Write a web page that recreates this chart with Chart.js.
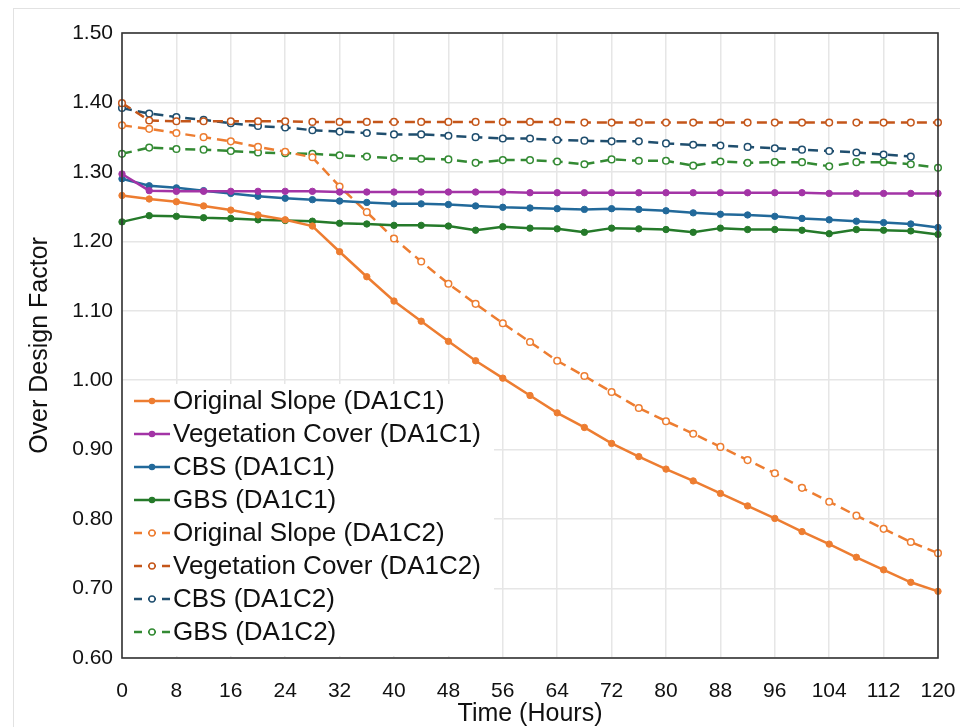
<!DOCTYPE html>
<html>
<head>
<meta charset="utf-8">
<script src="https://cdn.jsdelivr.net/npm/chart.js@4.4.0/dist/chart.umd.min.js"></script>
<style>
  html, body { margin: 0; padding: 0; background: #fff; }
  #wrap { position: relative; width: 960px; height: 727px; overflow: hidden; }
  #frame { position: absolute; left: 13px; top: 8px; width: 960px; height: 740px;
           border-left: 1px solid #e2e2e2; border-top: 1px solid #e2e2e2; }
  canvas { position: absolute; left: 0; top: 0; }
</style>
</head>
<body>
<div id="wrap">
  <div id="frame"></div>
  <canvas id="chart" width="960" height="727"></canvas>
</div>
<script>
// time axis (hours), one reading every 4 h
const hours = [0, 4, 8, 12, 16, 20, 24, 28, 32, 36, 40, 44, 48, 52, 56, 60,
               64, 68, 72, 76, 80, 84, 88, 92, 96, 100, 104, 108, 112, 116, 120]

const origC1 = [1.266, 1.261, 1.257, 1.251, 1.245, 1.238, 1.231, 1.222, 1.185, 1.149,
                1.114, 1.085, 1.056, 1.028, 1.003, 0.978, 0.953, 0.932, 0.909, 0.890,
                0.872, 0.855, 0.837, 0.819, 0.801, 0.782, 0.764, 0.745, 0.727, 0.709, 0.696]
const vegC1 = [1.297, 1.273, 1.272, 1.272, 1.272, 1.272, 1.272, 1.272, 1.271, 1.271,
               1.271, 1.271, 1.271, 1.271, 1.271, 1.270, 1.270, 1.270, 1.270, 1.270,
               1.270, 1.270, 1.270, 1.270, 1.270, 1.270, 1.269, 1.269, 1.269, 1.269, 1.269]
const cbsC1 = [1.290, 1.280, 1.277, 1.273, 1.269, 1.265, 1.262, 1.260, 1.258, 1.256,
               1.254, 1.254, 1.253, 1.251, 1.249, 1.248, 1.247, 1.246, 1.247, 1.246,
               1.244, 1.241, 1.239, 1.238, 1.236, 1.233, 1.231, 1.229, 1.227, 1.225, 1.220]
const gbsC1 = [1.228, 1.237, 1.236, 1.234, 1.233, 1.231, 1.230, 1.229, 1.226, 1.225,
               1.223, 1.223, 1.222, 1.216, 1.221, 1.219, 1.218, 1.213, 1.219, 1.218,
               1.217, 1.213, 1.219, 1.217, 1.217, 1.216, 1.211, 1.217, 1.216, 1.215, 1.210]
const origC2 = [1.367, 1.362, 1.356, 1.350, 1.344, 1.336, 1.329, 1.321, 1.279, 1.242,
                1.204, 1.171, 1.139, 1.110, 1.082, 1.055, 1.028, 1.006, 0.983, 0.960,
                0.941, 0.923, 0.904, 0.885, 0.866, 0.845, 0.825, 0.805, 0.786, 0.767, 0.751]
const vegC2 = [1.399, 1.374, 1.373, 1.373, 1.373, 1.373, 1.373, 1.372, 1.372, 1.372,
               1.372, 1.372, 1.372, 1.372, 1.372, 1.372, 1.372, 1.371, 1.371, 1.371,
               1.371, 1.371, 1.371, 1.371, 1.371, 1.371, 1.371, 1.371, 1.371, 1.371, 1.371]
const cbsC2 = [1.392, 1.384, 1.379, 1.375, 1.370, 1.366, 1.364, 1.360, 1.358, 1.356,
               1.354, 1.354, 1.352, 1.350, 1.348, 1.348, 1.346, 1.345, 1.344, 1.344,
               1.341, 1.339, 1.338, 1.336, 1.334, 1.332, 1.330, 1.328, 1.325, 1.322, null]
const gbsC2 = [1.326, 1.335, 1.333, 1.332, 1.330, 1.328, 1.327, 1.326, 1.324, 1.322,
               1.320, 1.319, 1.318, 1.313, 1.317, 1.317, 1.315, 1.311, 1.318, 1.316,
               1.316, 1.309, 1.315, 1.313, 1.314, 1.314, 1.308, 1.314, 1.314, 1.311, 1.306]

const FONT = "'Liberation Sans', Arial, sans-serif"

function toPoints(values) {
  return hours.map((h, i) => ({ x: h, y: values[i] }))
}

function solid(label, values, color) {
  return {
    label, data: toPoints(values),
    borderColor: color, backgroundColor: color,
    borderWidth: 2.5, pointRadius: 3.2, pointBorderWidth: 1,
    pointBackgroundColor: color, pointBorderColor: color,
    tension: 0, clip: false, dashed: false,
  }
}

function dashed(label, values, color) {
  return {
    label, data: toPoints(values),
    borderColor: color, backgroundColor: '#fff',
    borderWidth: 2.5, borderDash: [10, 6],
    pointRadius: 3.3, pointBorderWidth: 1.5,
    pointBackgroundColor: '#fff', pointBorderColor: color,
    tension: 0, clip: false, dashed: true,
  }
}

// legend drawn inside the plot, bottom-left, on a white box
const insideLegend = {
  id: 'insideLegend',
  afterDatasetsDraw(chart) {
    const { ctx, chartArea } = chart
    const x0 = chartArea.left
    const boxTop = chartArea.bottom - 274
    ctx.save()
    ctx.fillStyle = '#fff'
    ctx.fillRect(x0 + 1, boxTop, 371, 272)
    ctx.font = '26px ' + FONT
    ctx.textBaseline = 'middle'
    chart.data.datasets.forEach((ds, i) => {
      const y = boxTop + 17 + i * 33
      const lx = x0 + 12
      ctx.strokeStyle = ds.borderColor
      ctx.lineWidth = 2.5
      ctx.setLineDash(ds.dashed ? [8, 6] : [])
      ctx.beginPath()
      ctx.moveTo(lx, y)
      ctx.lineTo(lx + 36, y)
      ctx.stroke()
      ctx.setLineDash([])
      ctx.beginPath()
      ctx.arc(lx + 18, y, ds.dashed ? 3 : 2.6, 0, Math.PI * 2)
      ctx.fillStyle = ds.pointBackgroundColor
      ctx.fill()
      ctx.lineWidth = 1.3
      ctx.strokeStyle = ds.pointBorderColor
      ctx.stroke()
      ctx.fillStyle = '#111'
      ctx.fillText(ds.label, lx + 39, y + 1)
    })
    ctx.restore()
  },
  afterDraw(chart) {
    const { ctx, chartArea } = chart
    ctx.save()
    ctx.strokeStyle = '#333'
    ctx.lineWidth = 1.6
    ctx.strokeRect(chartArea.left, chartArea.top, chartArea.right - chartArea.left, chartArea.bottom - chartArea.top)
    ctx.restore()
  },
}

new Chart(document.getElementById('chart'), {
  type: 'line',
  data: {
    datasets: [
      solid('Original Slope (DA1C1)', origC1, '#ED7D31'),
      solid('Vegetation Cover (DA1C1)', vegC1, '#A334A6'),
      solid('CBS (DA1C1)', cbsC1, '#22699A'),
      solid('GBS (DA1C1)', gbsC1, '#257A2A'),
      dashed('Original Slope (DA1C2)', origC2, '#ED7D31'),
      dashed('Vegetation Cover (DA1C2)', vegC2, '#C4561A'),
      dashed('CBS (DA1C2)', cbsC2, '#1F4E6E'),
      dashed('GBS (DA1C2)', gbsC2, '#338A33'),
    ],
  },
  options: {
    responsive: false,
    animation: false,
    devicePixelRatio: 1,
    layout: { padding: { left: 0, right: 22, top: 33, bottom: 0 } },
    plugins: { legend: { display: false }, tooltip: { enabled: false } },
    scales: {
      x: {
        type: 'linear', min: 0, max: 120,
        afterFit: (s) => { s.height = 69; s.paddingRight = 0; s.paddingLeft = 0 },
        grid: { color: '#e6e6e6', lineWidth: 1.5, drawTicks: false },
        border: { display: false },
        ticks: { stepSize: 8, padding: 21, color: '#111', font: { family: FONT, size: 21 } },
        title: {
          display: true, text: 'Time (Hours)', color: '#111',
          font: { family: FONT, size: 25, lineHeight: 1 }, padding: { top: 0, bottom: 0 },
        },
      },
      y: {
        type: 'linear', min: 0.6, max: 1.5,
        afterFit: (s) => { s.width = 122 },
        grid: { color: '#e6e6e6', lineWidth: 1.5, drawTicks: false },
        border: { display: false },
        ticks: {
          stepSize: 0.1, padding: 9, color: '#111', font: { family: FONT, size: 21 },
          callback: (v) => v.toFixed(2),
        },
        title: {
          display: true, text: 'Over Design Factor', color: '#111',
          font: { family: FONT, size: 25, lineHeight: 1 }, padding: { top: 28, bottom: 0 },
        },
      },
    },
  },
  plugins: [insideLegend],
})
</script>
</body>
</html>
